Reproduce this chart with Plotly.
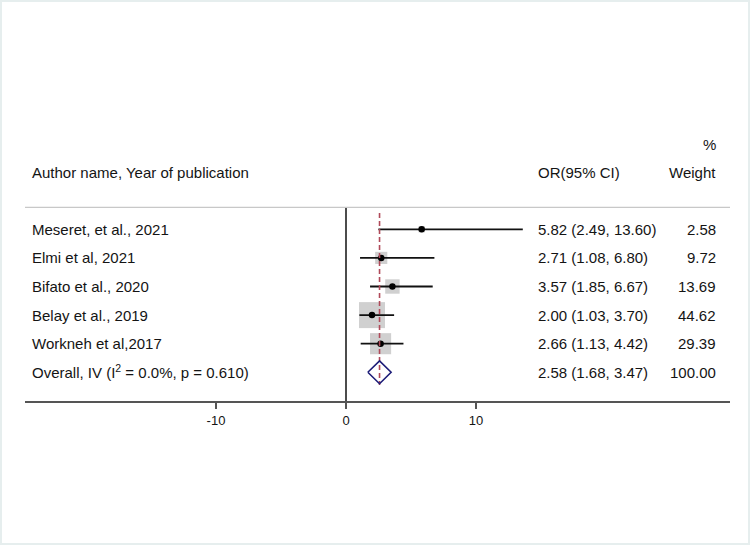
import plotly.graph_objects as go
import math

# ---- data ----
studies = ["Meseret, et al., 2021", "Elmi et al, 2021", "Bifato et al., 2020",
           "Belay et al., 2019", "Workneh et al,2017"]
or_vals = [5.82, 2.71, 3.57, 2.00, 2.66]
ci_low = [2.49, 1.08, 1.85, 1.03, 1.13]
ci_high = [13.60, 6.80, 6.67, 3.70, 4.42]
weights = [2.58, 9.72, 13.69, 44.62, 29.39]
overall_label = "Overall, IV (I<sup>2</sup> = 0.0%, p = 0.610)"
overall_or = 2.58
overall_low = 1.68
overall_high = 3.47
overall_weight = 100.00
tick_vals = [-10, 0, 10]
tick_text = ["-10", "0", "10"]

# ---- layout geometry ----
W, H = 750, 545
ML, MR, MT, MB = 25, 20, 120, 144
px_per_unit = 13.0
zero_px = 346.0
row0_px = 229.3
row_step = 28.6
plot_h = H - MT - MB

x_range = [(ML - zero_px) / px_per_unit, (W - MR - zero_px) / px_per_unit]
y_top = (MT - row0_px) / row_step
y_bot = (H - MB - row0_px) / row_step

FONT = "Arial, Liberation Sans, sans-serif"
TXT = "#141414"

rows = list(range(len(studies)))
overall_row = len(studies)

fig = go.Figure()

# weight squares
max_w = max(weights)
sizes = [26 * math.sqrt(w / max_w) for w in weights]
fig.add_trace(go.Scatter(x=or_vals, y=rows, mode="markers",
                         marker=dict(symbol="square", size=sizes, color="#bcbcbc",
                                     line=dict(width=0)),
                         hoverinfo="skip", showlegend=False))

# CI lines
cx, cy = [], []
for lo, hi, r in zip(ci_low, ci_high, rows):
    cx += [lo, hi, None]
    cy += [r, r, None]
fig.add_trace(go.Scatter(x=cx, y=cy, mode="lines",
                         line=dict(color="#111111", width=1.8),
                         hoverinfo="skip", showlegend=False))

# point estimates
fig.add_trace(go.Scatter(x=or_vals, y=rows, mode="markers",
                         marker=dict(symbol="circle", size=6.5, color="#000000"),
                         hoverinfo="skip", showlegend=False))

# overall dashed line
fig.add_trace(go.Scatter(x=[overall_or, overall_or], y=[-0.57, overall_row + 0.44],
                         mode="lines",
                         line=dict(color="#b04a5a", width=1.6, dash="5px,3px"),
                         hoverinfo="skip", showlegend=False))

# diamond
dh = 0.4
fig.add_trace(go.Scatter(
    x=[overall_low, overall_or, overall_high, overall_or, overall_low],
    y=[overall_row, overall_row - dh, overall_row, overall_row + dh, overall_row],
    mode="lines", fill="toself", fillcolor="rgba(255,255,255,0)",
    line=dict(color="#1c1c78", width=1.6),
    hoverinfo="skip", showlegend=False))

shapes = []
# zero line
shapes.append(dict(type="line", xref="x", yref="y", x0=0, x1=0,
                   y0=-0.77, y1=y_bot, line=dict(color="#111111", width=1.5),
                   layer="below"))
# header separator
shapes.append(dict(type="line", xref="paper", yref="y", x0=0, x1=1,
                   y0=-0.77, y1=-0.77, line=dict(color="#c8c8c8", width=1.3)))
# border
def px_to_paper_x(px):
    return (px - ML) / (W - ML - MR)
def px_to_paper_y(py):
    return (H - MB - py) / plot_h
shapes.append(dict(type="rect", xref="paper", yref="paper",
                   x0=px_to_paper_x(1), x1=px_to_paper_x(749),
                   y0=px_to_paper_y(544), y1=px_to_paper_y(1),
                   line=dict(color="#e6eeee", width=2)))

ann = []
name_x = px_to_paper_x(30)
or_x = px_to_paper_x(535.5)
wt_x = px_to_paper_x(718)
fs = 15

def add_text(text, x, y, anchor, yshift=0):
    ann.append(dict(text=text, x=x, y=y, xref="paper", yref="y",
                    xanchor=anchor, yanchor="middle", showarrow=False,
                    yshift=yshift,
                    font=dict(family=FONT, size=fs, color=TXT)))

add_text("Author name, Year of publication", name_x, -1.98, "left")
add_text("OR(95% CI)", or_x, -1.98, "left")
add_text("Weight", wt_x, -1.98, "right")
add_text("%", wt_x, -2.98, "right")

for s, o, lo, hi, w, r in zip(studies, or_vals, ci_low, ci_high, weights, rows):
    add_text(s, name_x, r, "left")
    add_text(f"{o:.2f} ({lo:.2f}, {hi:.2f})", or_x, r, "left")
    add_text(f"{w:.2f}", wt_x, r, "right")

add_text(overall_label, name_x, overall_row, "left", yshift=1.2)
add_text(f"{overall_or:.2f} ({overall_low:.2f}, {overall_high:.2f})", or_x, overall_row, "left")
add_text(f"{overall_weight:.2f}", wt_x, overall_row, "right")

fig.update_layout(
    width=W, height=H,
    margin=dict(l=ML, r=MR, t=MT, b=MB, pad=0),
    paper_bgcolor="white", plot_bgcolor="white",
    shapes=shapes, annotations=ann,
    xaxis=dict(range=x_range, showgrid=False, zeroline=False,
               showline=True, linecolor="#555555", linewidth=1.6,
               ticks="outside", ticklen=6, tickwidth=1.5, tickcolor="#555555",
               tickvals=tick_vals, ticktext=tick_text,
               tickfont=dict(family=FONT, size=13, color=TXT),
               ticklabelstandoff=1, fixedrange=True),
    yaxis=dict(range=[y_bot, y_top], visible=False, fixedrange=True),
)

fig.write_html("out.html", config={"displayModeBar": False},
               post_script="document.body.style.margin='0';document.body.style.overflow='hidden';")
